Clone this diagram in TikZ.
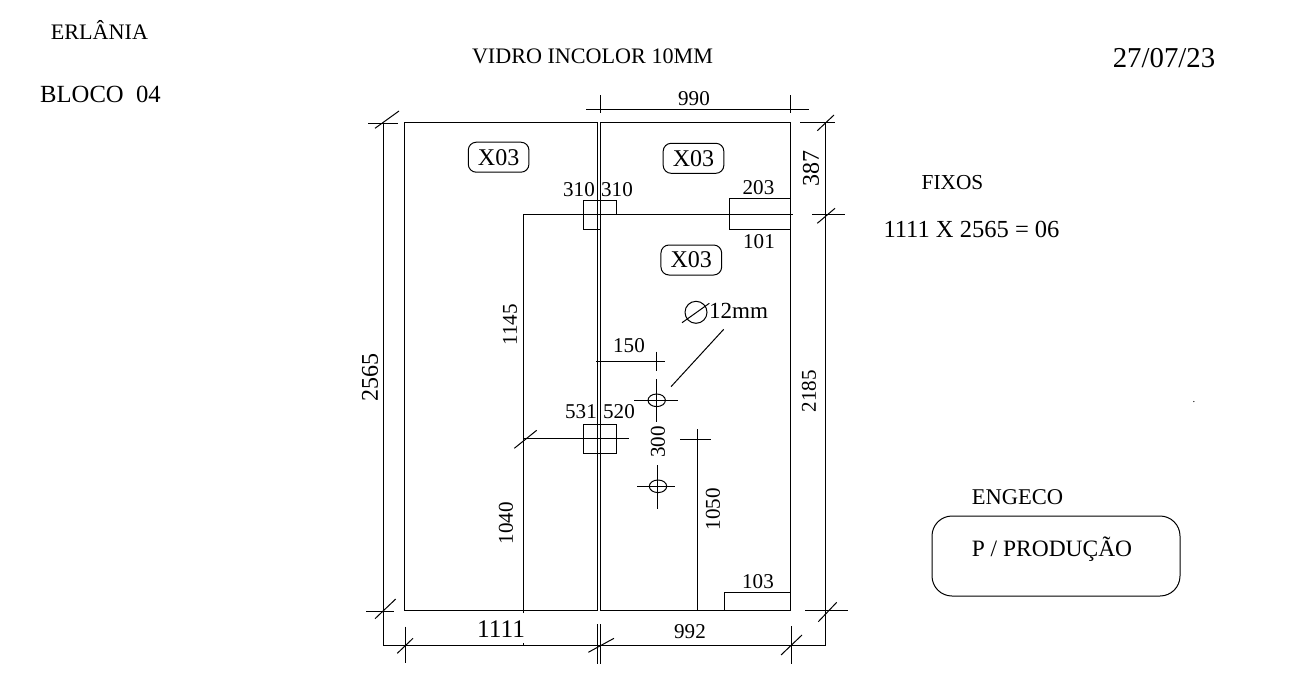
\documentclass[tikz,border=0pt]{standalone}
\usepackage{fontspec}
\setmainfont{Liberation Serif}
\tikzset{
  dimtext/.style={inner sep=0pt, font=\fontsize{15.8}{18}\selectfont},
  bigtext/.style={inner sep=0pt, font=\fontsize{18}{20}\selectfont},
  smalltext/.style={inner sep=0pt, font=\fontsize{16.6}{18}\selectfont},
  vtext/.style={dimtext, rotate=90},
  bigvtext/.style={bigtext, rotate=90},
  marktag/.style={draw, rounded corners=6pt, minimum width=45.5pt, minimum height=22.5pt, inner sep=0pt, font=\fontsize{18}{18}\selectfont},
  thin line/.style={line width=0.75pt}
}
\begin{document}
\begin{tikzpicture}[x=0.75pt, y=-0.75pt, thin line]
  \useasboundingbox (0,0) rectangle (1305,696);
  % Define glass panels
  \draw (404,122.3) rectangle (597.7,610.3);
  \draw (600.3,122.3) rectangle (790.7,610.3);
  % Define tags
  \node[marktag] (tagleft) at (498.6,157.2) {X03};
  \node[marktag] (tagtop) at (693.5,158.3) {X03};
  \node[marktag] (tagdoor) at (691.3,260) {X03};
  % Define hardware cut lines
  \draw (523.7,613) -- (523.7,214.3) -- (792.7,214.3);
  \draw (523.7,643) -- (523.7,645);
  \draw (600.3,229.3) -- (583.3,229.3) -- (583.3,200.3) -- (616.3,200.3) -- (616.3,215);
  \draw (790.7,198.3) -- (729.3,198.3) -- (729.3,229.3) -- (790.7,229.3);
  \draw (583.3,424.3) rectangle (616.7,453.7);
  \draw (523.7,438.3) -- (628.7,438.3);
  \draw (514.3,448.3) -- (536.7,430.3);
  \draw (697.7,610.3) -- (697.7,429.3);
  \draw (680,439.3) -- (710.7,439.3);
  \draw (790.7,592.3) -- (724.3,592.3) -- (724.3,610.3);
  % Define holes
  \draw (656.7,400.3) ellipse (8.7 and 6.3);
  \draw (656.7,379) -- (656.7,421.7);
  \draw (634,400.3) -- (677.7,400.3);
  \draw (658,486.3) ellipse (8.7 and 6.3);
  \draw (657.3,465) -- (657.3,509.3);
  \draw (637,486.3) -- (674.7,486.3);
  \draw (596,361) -- (664.7,361);
  \draw (656.7,351.7) -- (656.7,370.7);
  \draw (671,386.7) -- (723.7,329.3);
  \draw (696,312.3) circle (11);
  \draw (682,322.7) -- (709.3,303.3);
  % Define top dimension
  \draw (586,109.3) -- (808.7,109.3);
  \draw (600.3,95) -- (600.3,112.7);
  \draw (790.7,95) -- (790.7,112.7);
  % Define left dimension
  \draw (383.3,123) -- (383.3,645.3) -- (825.3,645.3) -- (825.3,122.3);
  \draw (368,123) -- (398,123);
  \draw (375,128.3) -- (399,111);
  \draw (366,611.3) -- (394,611.3);
  \draw (375,618.7) -- (395.7,599);
  % Define right dimension
  \draw (800,122.3) -- (835,122.3);
  \draw (817.3,130.7) -- (834,115);
  \draw (812,214.3) -- (845,214.3);
  \draw (817.3,223.3) -- (835,208.3);
  \draw (805,610.3) -- (848,610.3);
  \draw (818.3,621.7) -- (836.7,602.3);
  % Define bottom dimension
  \draw (405.3,626.7) -- (405.3,663.3);
  \draw (397.3,653.3) -- (413,638.3);
  \draw (597.7,624) -- (597.7,663.7);
  \draw (600.3,624) -- (600.3,663.7);
  \draw (588.3,652.3) -- (614,638.3);
  \draw (791.7,626) -- (791.7,663.7);
  \draw (781,655) -- (802,635);
  % Define outer panel
  \draw[rounded corners=15pt] (932,516) rectangle (1180,596);
  % Define labels
  \node[smalltext] (client) at (99.5,29.5) {ERLÂNIA};
  \node[bigtext, font=\fontsize{18.5}{20}\selectfont] (block) at (100.5,94) {BLOCO\ \ 04};
  \node[smalltext] (glass) at (592.5,56) {VIDRO INCOLOR 10MM};
  \node[bigtext, font=\fontsize{21.6}{24}\selectfont] (date) at (1164,58) {27/07/23};
  \node[smalltext, font=\fontsize{16}{18}\selectfont] (fixed) at (952.5,183) {FIXOS};
  \node[bigtext, font=\fontsize{18.4}{20}\selectfont] (count) at (971.5,229) {1111 X 2565 = 06};
  \node[smalltext, font=\fontsize{16.9}{18}\selectfont] (client2) at (1017.5,497) {ENGECO};
  \node[smalltext, font=\fontsize{17.6}{20}\selectfont, anchor=base] (prod) at (1052,556) {P / PRODUÇÃO};
  \node[inner sep=0pt, font=\fontsize{8}{8}\selectfont] (dot) at (1194,402) {.};
  % Define dimension values
  \node[dimtext] (w990) at (694,99) {990};
  \node[dimtext] (a310) at (579,190) {310};
  \node[dimtext] (b310) at (617,190) {310};
  \node[dimtext] (w203) at (758.5,188) {203};
  \node[dimtext] (w101) at (759,242) {101};
  \node[bigvtext] (h387) at (811,168) {387};
  \node[vtext] (h1145) at (510,325) {1145};
  \node[dimtext] (w150) at (629,346) {150};
  \node[dimtext, font=\fontsize{17.3}{20}\selectfont, anchor=west] (d12) at (708.5,311) {12mm};
  \node[dimtext] (a531) at (581,412) {531};
  \node[dimtext] (b520) at (619,412) {520};
  \node[vtext] (h300) at (658,442) {300};
  \node[vtext] (h2185) at (809,391) {2185};
  \node[bigvtext] (h2565) at (370,377) {2565};
  \node[vtext] (h1040) at (506,523) {1040};
  \node[vtext] (h1050) at (713,509) {1050};
  \node[dimtext] (w103) at (758,582) {103};
  \node[bigtext, font=\fontsize{19}{20}\selectfont] (w1111) at (501,629) {1111};
  \node[dimtext] (w992) at (690,632) {992};
\end{tikzpicture}
\end{document}
